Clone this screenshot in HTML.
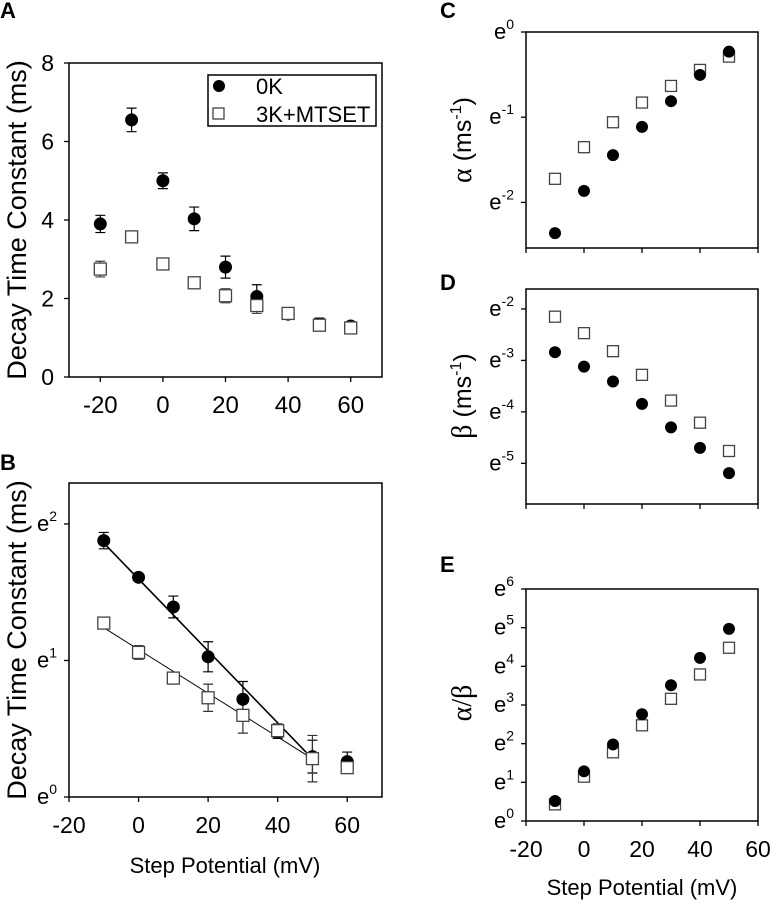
<!DOCTYPE html>
<html><head><meta charset="utf-8"><style>
html,body{margin:0;padding:0;background:#fff;}
svg{display:block;font-family:"Liberation Sans",Arial,sans-serif;}
</style></head><body>
<svg id="fig" width="770" height="900" viewBox="0 0 770 900" xmlns="http://www.w3.org/2000/svg"></svg>
<script>
// ---- Data ----
const xVals = [-20,-10,0,10,20,30,40,50,60];
const aK0 = [3.9,6.55,5.0,4.03,2.8,2.05,1.6,1.35,1.3];
const aK0Err = [0.22,0.3,0.2,0.3,0.28,0.3,0.05,0.15,0.05];
const aK3 = [2.75,3.57,2.88,2.4,2.07,1.82,1.62,1.32,1.25];
const aK3Err = [0.2,0.05,0.05,0.05,0.18,0.2,0.05,0.15,0.05];
const aTicksY = [0,2,4,6,8];
const aTicksX = [-20,0,20,40,60];

const bX = [-10,0,10,20,30,40,50,60];
const bK0 = [1.878,1.609,1.392,1.027,0.716,0.479,0.296,0.259];
const bK0Err = [0.06,0.02,0.08,0.11,0.13,0.05,0.12,0.07];
const bK3 = [1.274,1.059,0.871,0.727,0.598,0.486,0.281,0.215];
const bK3Err = [0.02,0.05,0.02,0.1,0.13,0.05,0.17,0.04];
const bFitK0 = [[-10,1.86],[50,0.28]];
const bFitK3 = [[-10,1.24],[50,0.28]];
const bTicksX = [-20,0,20,40,60];
const bTicksY = [0,1,2];

const cdeX = [-10,0,10,20,30,40,50];
const cK0 = [-2.36,-1.864,-1.445,-1.114,-0.812,-0.504,-0.231];
const cK3 = [-1.723,-1.352,-1.059,-0.828,-0.633,-0.445,-0.289];
const cTicksY = [0,-1,-2];
const dK0 = [-2.84,-3.12,-3.41,-3.845,-4.30,-4.70,-5.19];
const dK3 = [-2.15,-2.47,-2.82,-3.28,-3.78,-4.21,-4.76];
const dTicksY = [-2,-3,-4,-5];
const eK0 = [0.517,1.285,1.98,2.76,3.51,4.22,4.97];
const eK3 = [0.43,1.146,1.776,2.475,3.16,3.79,4.48];
const eTicksY = [0,1,2,3,4,5,6];
const cdeTicksX = [-20,0,20,40,60];

const NS = "http://www.w3.org/2000/svg";
const svg = document.getElementById('fig');
function mk(tag, attrs, parent, txt){
  const e = document.createElementNS(NS, tag);
  for (const k in attrs) e.setAttribute(k, attrs[k]);
  if (txt !== undefined) e.textContent = txt;
  (parent||svg).appendChild(e);
  return e;
}
function scale(d0,d1,r0,r1){ return v => r0 + (v-d0)/(d1-d0)*(r1-r0); }

function panel(name, box, xd, yd){
  const g = mk('g', {});
  
  
  const r = mk('rect', {x:box.x0, y:box.y0, width:box.x1-box.x0, height:box.y1-box.y0, fill:'none', stroke:'#000', 'stroke-width':1.5}, g);
  
  
  return {g, sx: scale(xd[0],xd[1],box.x0,box.x1), sy: scale(yd[0],yd[1],box.y1,box.y0), box};
}
function xTicks(p, ticks, labels, fs){
  const ga = mk('g', {}, p.g);
  
  
  ticks.forEach(t => {
    const x = p.sx(t);
    mk('line', {x1:x, x2:x, y1:p.box.y1, y2:p.box.y1+5, stroke:'#000','stroke-width':1.3}, ga);
    if (labels){
      const tx = mk('text', {x:x, y:p.box.y1+36, 'font-size':fs, 'text-anchor':'middle'}, ga, String(t));
      
      
    }
  });
}
function yTicksLin(p, ticks){
  const ga = mk('g', {}, p.g);
  
  
  ticks.forEach(t => {
    const y = p.sy(t);
    mk('line', {x1:p.box.x0-5, x2:p.box.x0, y1:y, y2:y, stroke:'#000','stroke-width':1.3}, ga);
    const tx = mk('text', {x:p.box.x0-15, y:y+8, 'font-size':23, 'text-anchor':'end'}, ga, String(t));
    
    
  });
}
function yTicksExp(p, ticks){
  const ga = mk('g', {}, p.g);
  
  
  ticks.forEach(t => {
    const y = p.sy(t);
    mk('line', {x1:p.box.x0-5, x2:p.box.x0, y1:y, y2:y, stroke:'#000','stroke-width':1.3}, ga);
    const tx = mk('text', {x:p.box.x0-12, y:y+7, 'font-size':22, 'text-anchor':'end'}, ga);
    
    
    mk('tspan', {}, tx, 'e');
    mk('tspan', {'font-size':14, dy:-10}, tx, String(t));
  });
}
function errBars(p, xs, ys, errs, col){
  xs.forEach((x,i) => {
    const cx = p.sx(x), y1 = p.sy(ys[i]-errs[i]), y2 = p.sy(ys[i]+errs[i]);
    const l = mk('path', {d:`M${cx},${y1}V${y2}M${cx-5},${y1}H${cx+5}M${cx-5},${y2}H${cx+5}`, stroke:col, 'stroke-width':1.2, fill:'none'}, p.g);
    
    
  });
}
function circles(p, xs, ys, r){
  xs.forEach((x,i) => {
    const c = mk('circle', {cx:p.sx(x), cy:p.sy(ys[i]), r:r, fill:'#000'}, p.g);
    
    
  });
}
function squares(p, xs, ys, s){
  xs.forEach((x,i) => {
    const q = mk('rect', {x:p.sx(x)-s/2, y:p.sy(ys[i])-s/2, width:s, height:s, fill:'#fff', stroke:'#444', 'stroke-width':1.3}, p.g);
    
    
  });
}
function letter(t, x, y){
  const e = mk('text', {x:x, y:y, 'font-size':22, 'font-weight':'bold'}, svg, t);
  
  
}
function vTitle(cx, cy, size){
  const e = mk('text', {x:0, y:0, 'font-size':size, 'text-anchor':'middle', transform:`translate(${cx},${cy}) rotate(-90)`});
  
  
  return e;
}

// ---- Panel A ----
const pA = panel('panel-a', {x0:69,y0:63,x1:382,y1:377}, [-30,70], [0,8]);
xTicks(pA, aTicksX, true, 24); yTicksLin(pA, aTicksY);
errBars(pA, xVals, aK0, aK0Err, '#000');
errBars(pA, xVals, aK3, aK3Err, '#444');
circles(pA, xVals, aK0, 6.5);
squares(pA, xVals, aK3, 12);
letter('A', 0, 18);
vTitle(26, 220, 27).textContent = 'Decay Time Constant (ms)';
// legend
const lg = mk('g', {});


mk('rect', {x:208, y:75, width:168, height:51, fill:'#fff', stroke:'#000', 'stroke-width':1.5}, lg);
mk('circle', {cx:219, cy:86, r:6, fill:'#000'}, lg);
mk('rect', {x:213, y:108, width:11, height:11, fill:'#fff', stroke:'#444', 'stroke-width':1.3}, lg);
const l1 = mk('text', {x:256, y:94, 'font-size':22}, lg, '0K');


const l2 = mk('text', {x:256, y:122, 'font-size':22}, lg, '3K+MTSET');



// ---- Panel B ----
const pB = panel('panel-b', {x0:69,y0:483,x1:382,y1:797}, [-20,70], [0,2.3]);
xTicks(pB, bTicksX, true, 23); yTicksExp(pB, bTicksY);
[[bFitK0,1.6],[bFitK3,1]].forEach(([f,w]) => {
  const l = mk('line', {x1:pB.sx(f[0][0]), y1:pB.sy(f[0][1]), x2:pB.sx(f[1][0]), y2:pB.sy(f[1][1]), stroke:'#000', 'stroke-width':w}, pB.g);
  
  
});
errBars(pB, bX, bK0, bK0Err, '#000');
errBars(pB, bX, bK3, bK3Err, '#333');
circles(pB, bX, bK0, 6.5);
squares(pB, bX, bK3, 12);
letter('B', 0, 470);
vTitle(26, 640, 27).textContent = 'Decay Time Constant (ms)';
const bxl = mk('text', {x:225, y:873, 'font-size':22, 'text-anchor':'middle'}, svg, 'Step Potential (mV)');



// ---- Panel C ----
const pC = panel('panel-c', {x0:526,y0:32,x1:758,y1:248}, [-20,60], [-2.535,0]);
xTicks(pC, cdeTicksX, false, 22); yTicksExp(pC, cTicksY);
squares(pC, cdeX, cK3, 11); circles(pC, cdeX, cK0, 6);
letter('C', 440, 18);
const tc = vTitle(471, 140, 25);
mk('tspan', {'font-family':'"Liberation Serif",serif', 'font-size':28}, tc, 'α ');
mk('tspan', {}, tc, '(ms');
mk('tspan', {'font-size':16, dy:-10}, tc, '-1');
mk('tspan', {dy:10}, tc, ')');

// ---- Panel D ----
const pD = panel('panel-d', {x0:526,y0:289,x1:758,y1:504}, [-20,60], [-5.79,-1.612]);
xTicks(pD, cdeTicksX, false, 22); yTicksExp(pD, dTicksY);
squares(pD, cdeX, dK3, 11); circles(pD, cdeX, dK0, 6);
letter('D', 440, 290);
const td = vTitle(471, 396, 25);
mk('tspan', {'font-family':'"Liberation Serif",serif', 'font-size':28}, td, 'β ');
mk('tspan', {}, td, '(ms');
mk('tspan', {'font-size':16, dy:-10}, td, '-1');
mk('tspan', {dy:10}, td, ')');

// ---- Panel E ----
const pE = panel('panel-e', {x0:526,y0:589,x1:758,y1:821}, [-20,60], [0,6]);
xTicks(pE, cdeTicksX, true, 23); yTicksExp(pE, eTicksY);
squares(pE, cdeX, eK3, 11); circles(pE, cdeX, eK0, 6);
letter('E', 440, 572);
const te = vTitle(471, 703, 28);
te.setAttribute('font-family', '"Liberation Serif",serif');
te.textContent = 'α/β';
const exl = mk('text', {x:642, y:895, 'font-size':22, 'text-anchor':'middle'}, svg, 'Step Potential (mV)');


</script>
</body></html>
